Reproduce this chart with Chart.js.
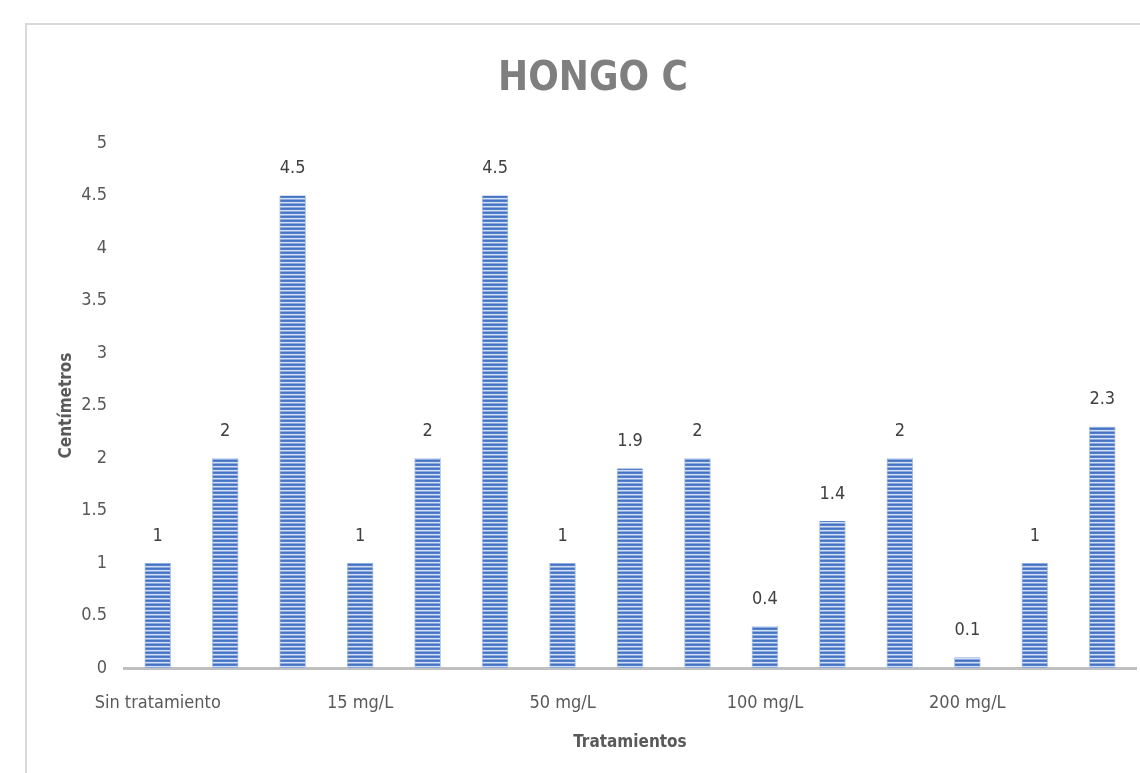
<!DOCTYPE html>
<html>
<head>
<meta charset="utf-8">
<title>HONGO C</title>
<script src="https://cdn.jsdelivr.net/npm/chart.js@4/dist/chart.umd.min.js"></script>
<style>
  html, body { margin: 0; padding: 0; background: #fff; overflow: hidden; }
  #frame { position: absolute; left: 25px; top: 23px; width: 1200px; height: 800px; border: 2px solid #d9d9d9; }
  #wrap { position: absolute; left: 0; top: 0; width: 1140px; height: 773px; }
</style>
</head>
<body>
<div id="frame"></div>
<div id="wrap"><canvas id="chart"></canvas></div>
<script>
const categories = ['Sin tratamiento', '', '', '15 mg/L', '', '', '50 mg/L', '', '', '100 mg/L', '', '', '200 mg/L', '', ''];
const values = [1, 2, 4.5, 1, 2, 4.5, 1, 1.9, 2, 0.4, 1.4, 2, 0.1, 1, 2.3];
const yTicks = [0, 0.5, 1, 1.5, 2, 2.5, 3, 3.5, 4, 4.5, 5];

const FONT = '"Liberation Sans Narrow", "DejaVu Sans Condensed", "Noto Sans", sans-serif';

// horizontal stripes like the Excel fill
function stripePattern() {
  const c = document.createElement('canvas');
  c.width = 4; c.height = 4;
  const g = c.getContext('2d');
  const rows = ['#4472c4', '#5580cb', '#d2def2', '#8fabdd'];
  rows.forEach((col, i) => { g.fillStyle = col; g.fillRect(0, i, 4, 1); });
  return g.createPattern(c, 'repeat');
}

const valueLabels = {
  id: 'valueLabels',
  afterDatasetsDraw(chart) {
    const ctx = chart.ctx;
    const meta = chart.getDatasetMeta(0);
    ctx.save();
    ctx.font = '18px ' + FONT;
    ctx.fillStyle = '#404040';
    ctx.textAlign = 'center';
    ctx.textBaseline = 'middle';
    meta.data.forEach((bar, i) => {
      ctx.fillText(String(values[i]), bar.x, bar.y - 27);
    });
    ctx.restore();
  }
};

new Chart(document.getElementById('chart'), {
  type: 'bar',
  data: {
    labels: categories,
    datasets: [{
      data: values,
      backgroundColor: stripePattern(),
      borderColor: '#b4c7e7',
      borderWidth: { left: 1, right: 1, top: 0, bottom: 0 },
      barThickness: 26
    }]
  },
  options: {
    responsive: true,
    maintainAspectRatio: false,
    animation: false,
    layout: { padding: { left: 50, right: 4, top: 0, bottom: 20 } },
    plugins: {
      legend: { display: false },
      tooltip: { enabled: false },
      title: {
        display: true,
        text: 'HONGO C',
        color: '#7f7f7f',
        font: { family: FONT, size: 40, weight: 'bold' },
        padding: { top: 56, bottom: 39 }
      }
    },
    scales: {
      x: {
        grid: { display: true, drawOnChartArea: false, drawTicks: true, tickLength: 25, tickColor: 'rgba(0,0,0,0)' },
        border: { display: true, color: '#bfbfbf', width: 3 },
        ticks: {
          autoSkip: false, maxRotation: 0, padding: 0,
          color: '#595959', font: { family: FONT, size: 18 }
        },
        title: {
          display: true, text: 'Tratamientos', color: '#595959',
          font: { family: FONT, size: 17, weight: 'bold' },
          padding: { top: 18, bottom: 0 }
        }
      },
      y: {
        min: 0, max: 5,
        afterBuildTicks: s => { s.ticks = yTicks.map(v => ({ value: v })); },
        afterFit: s => { s.width = 74; },
        grid: { display: false, drawTicks: false },
        border: { display: false },
        ticks: {
          padding: 17, color: '#595959', font: { family: FONT, size: 18 },
          callback: v => String(v)
        },
        title: {
          display: true, text: 'Centímetros', color: '#595959',
          font: { family: FONT, size: 17, weight: 'bold' },
          padding: { top: 6, bottom: 0 }
        }
      }
    }
  },
  plugins: [valueLabels]
});
</script>
</body>
</html>
